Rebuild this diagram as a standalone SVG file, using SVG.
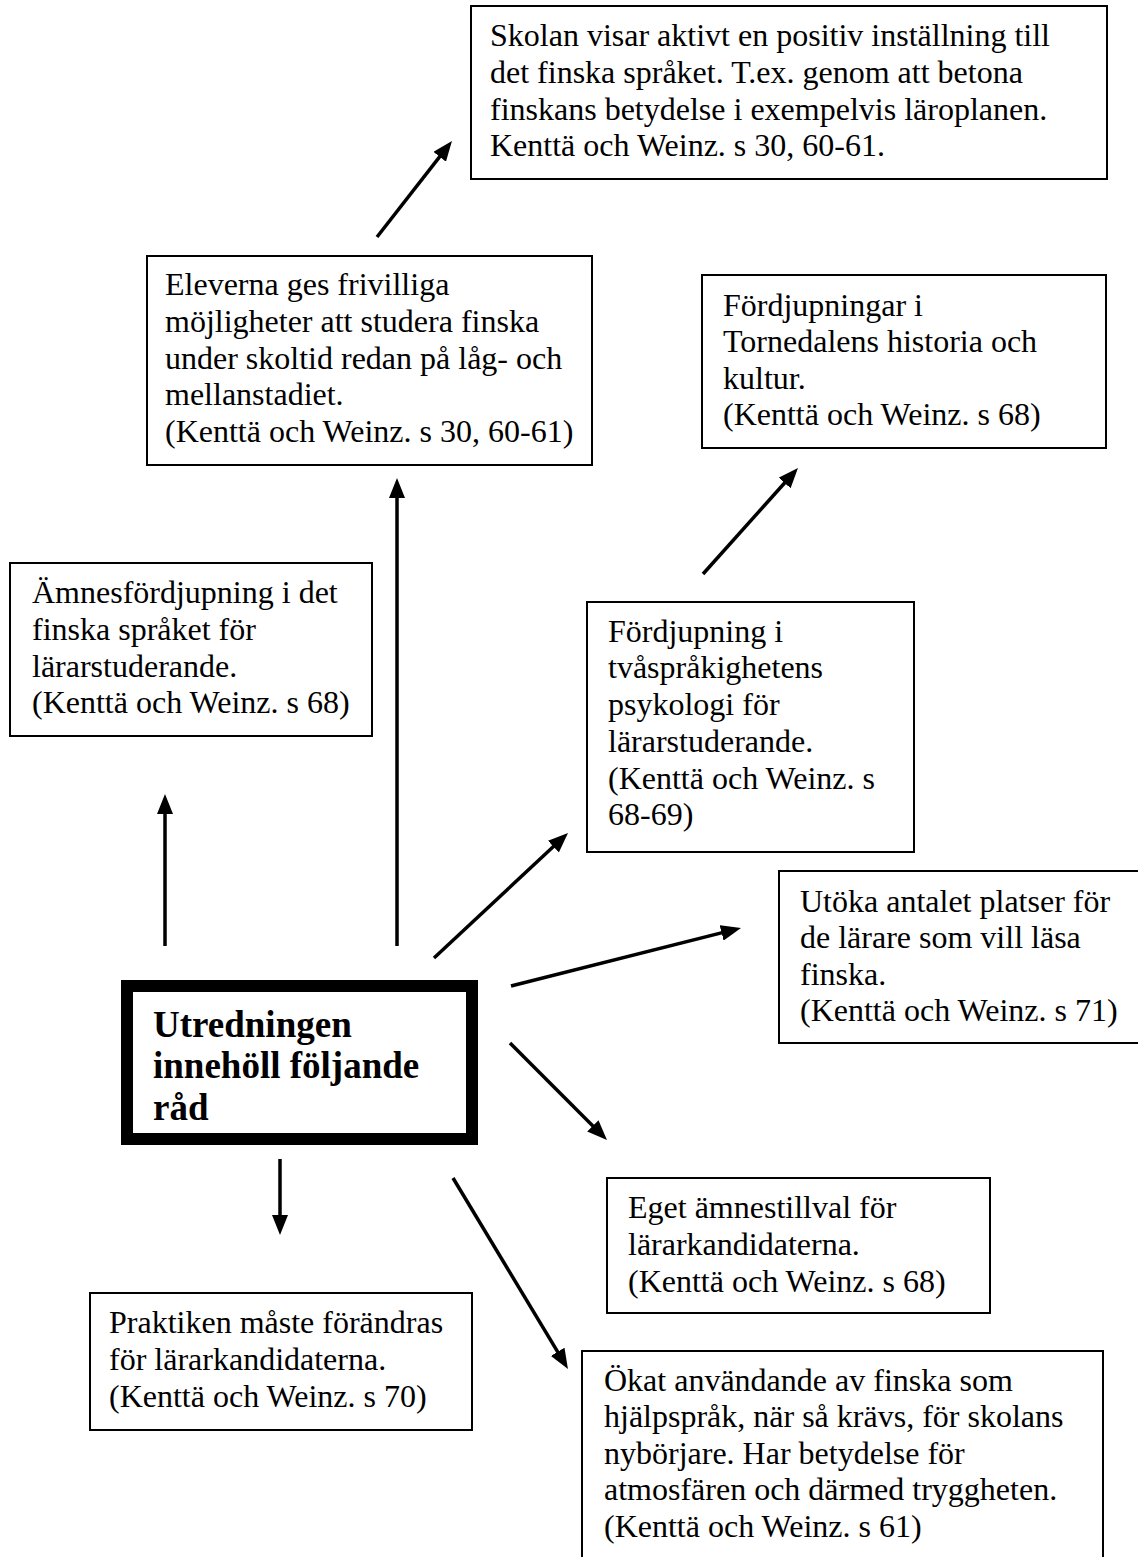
<svg xmlns="http://www.w3.org/2000/svg" width="1138" height="1557" viewBox="0 0 1138 1557">
<defs>
<style>
.box{fill:#fff;stroke:#000;stroke-width:2}
.t{font-family:"Liberation Serif","Times New Roman",serif;font-size:32px;fill:#000}
.b{font-family:"Liberation Serif","Times New Roman",serif;font-size:37px;font-weight:bold;fill:#000}
.c{fill:none;stroke:#000;stroke-width:3.5}
</style>
<marker id="ah" markerUnits="userSpaceOnUse" markerWidth="20" markerHeight="16" refX="10" refY="8" orient="auto" viewBox="0 0 20 16">
<path d="M0,0 L20,8 L0,16 z" fill="#000"/>
</marker>
</defs>
<rect width="1138" height="1557" fill="#fff"/>
<g id="connectors">
<line class="c" x1="377" y1="237" x2="445.8" y2="148.9" marker-end="url(#ah)"/>
<line class="c" x1="703" y1="574" x2="791.3" y2="475.5" marker-end="url(#ah)"/>
<line class="c" x1="165" y1="946" x2="165" y2="804" marker-end="url(#ah)"/>
<line class="c" x1="397" y1="946" x2="397" y2="488" marker-end="url(#ah)"/>
<line class="c" x1="434" y1="958" x2="560.7" y2="839.8" marker-end="url(#ah)"/>
<line class="c" x1="511" y1="986" x2="731.3" y2="930.4" marker-end="url(#ah)"/>
<line class="c" x1="510" y1="1043" x2="599.9" y2="1132.9" marker-end="url(#ah)"/>
<line class="c" x1="280" y1="1159" x2="280" y2="1225" marker-end="url(#ah)"/>
<line class="c" x1="453" y1="1178" x2="562.8" y2="1360.4" marker-end="url(#ah)"/>
</g>
<g id="n-skolan">
<rect class="box" x="471" y="6" width="636" height="173"/>
<text class="t" x="490" y="46">Skolan visar aktivt en positiv inställning till</text>
<text class="t" x="490" y="83">det finska språket. T.ex. genom att betona</text>
<text class="t" x="490" y="120">finskans betydelse i exempelvis läroplanen.</text>
<text class="t" x="490" y="156">Kenttä och Weinz. s 30, 60-61.</text>
</g>
<g id="n-eleverna">
<rect class="box" x="147" y="256" width="445" height="209"/>
<text class="t" x="165" y="295">Eleverna ges frivilliga</text>
<text class="t" x="165" y="332">möjligheter att studera finska</text>
<text class="t" x="165" y="369">under skoltid redan på låg- och</text>
<text class="t" x="165" y="405">mellanstadiet.</text>
<text class="t" x="165" y="442">(Kenttä och Weinz. s 30, 60-61)</text>
</g>
<g id="n-tornedalen">
<rect class="box" x="702" y="275" width="404" height="173"/>
<text class="t" x="723" y="316">Fördjupningar i</text>
<text class="t" x="723" y="352">Tornedalens historia och</text>
<text class="t" x="723" y="389">kultur.</text>
<text class="t" x="723" y="425">(Kenttä och Weinz. s 68)</text>
</g>
<g id="n-amnes">
<rect class="box" x="10" y="563" width="362" height="173"/>
<text class="t" x="32" y="603">Ämnesfördjupning i det</text>
<text class="t" x="32" y="640">finska språket för</text>
<text class="t" x="32" y="677">lärarstuderande.</text>
<text class="t" x="32" y="713">(Kenttä och Weinz. s 68)</text>
</g>
<g id="n-tvasprakighet">
<rect class="box" x="587" y="602" width="327" height="250"/>
<text class="t" x="608" y="642">Fördjupning i</text>
<text class="t" x="608" y="678">tvåspråkighetens</text>
<text class="t" x="608" y="715">psykologi för</text>
<text class="t" x="608" y="752">lärarstuderande.</text>
<text class="t" x="608" y="789">(Kenttä och Weinz. s</text>
<text class="t" x="608" y="825">68-69)</text>
</g>
<g id="n-utoka">
<rect class="box" x="779" y="871" width="372" height="172"/>
<text class="t" x="800" y="912">Utöka antalet platser för</text>
<text class="t" x="800" y="948">de lärare som vill läsa</text>
<text class="t" x="800" y="985">finska.</text>
<text class="t" x="800" y="1021">(Kenttä och Weinz. s 71)</text>
</g>
<g id="n-main">
<rect x="127" y="986" width="345" height="153" fill="#fff" stroke="#000" stroke-width="12"/>
<text class="b" x="153" y="1037">Utredningen</text>
<text class="b" x="153" y="1078">innehöll följande</text>
<text class="b" x="153" y="1120">råd</text>
</g>
<g id="n-eget">
<rect class="box" x="607" y="1178" width="383" height="135"/>
<text class="t" x="628" y="1218">Eget ämnestillval för</text>
<text class="t" x="628" y="1255">lärarkandidaterna.</text>
<text class="t" x="628" y="1292">(Kenttä och Weinz. s 68)</text>
</g>
<g id="n-praktiken">
<rect class="box" x="90" y="1293" width="382" height="137"/>
<text class="t" x="109" y="1333">Praktiken måste förändras</text>
<text class="t" x="109" y="1370">för lärarkandidaterna.</text>
<text class="t" x="109" y="1407">(Kenttä och Weinz. s 70)</text>
</g>
<g id="n-okat">
<rect class="box" x="582" y="1351" width="521" height="240"/>
<text class="t" x="604" y="1391">Ökat användande av finska som</text>
<text class="t" x="604" y="1427">hjälpspråk, när så krävs, för skolans</text>
<text class="t" x="604" y="1464">nybörjare. Har betydelse för</text>
<text class="t" x="604" y="1500">atmosfären och därmed tryggheten.</text>
<text class="t" x="604" y="1537">(Kenttä och Weinz. s 61)</text>
</g>
</svg>
